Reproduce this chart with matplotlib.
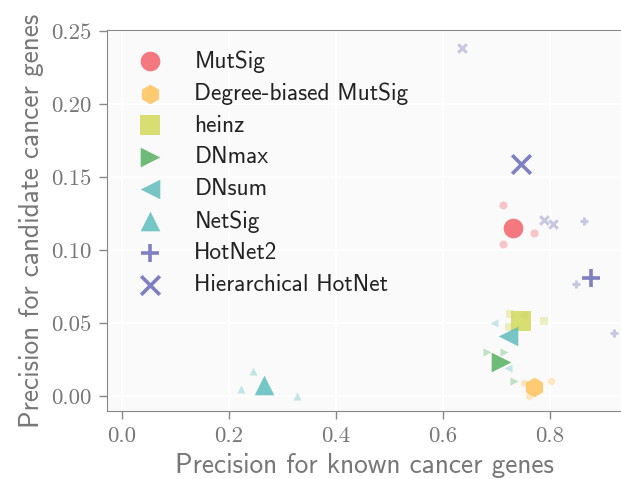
import matplotlib
matplotlib.use('Agg')
import matplotlib.pyplot as plt

plt.rcParams['mathtext.fontset'] = 'cm'
plt.rcParams['axes.formatter.use_mathtext'] = True

# methods, colours and markers
methods = ['MutSig', 'Degree-biased MutSig', 'heinz', 'DNmax', 'DNsum',
           'NetSig', 'HotNet2', 'Hierarchical HotNet']
colors = ['#f2616b', '#ffc35c', '#d2d95a', '#55b061', '#63bcbc',
          '#5ebdbd', '#6a6ab8', '#6a6ab8']
markers = ['o', 'h', 's', '>', '<', '^', '+', 'x']

# average precision (big markers)
known_mean = [0.731, 0.770, 0.746, 0.709, 0.722, 0.266, 0.877, 0.745]
cand_mean = [0.115, 0.0064, 0.0516, 0.0235, 0.0413, 0.0075, 0.0806, 0.159]

# individual runs (small markers)
known_runs = [
    [0.712, 0.712, 0.770],
    [0.751, 0.801, 0.760],
    [0.726, 0.789, 0.723],
    [0.682, 0.715, 0.732],
    [0.696, 0.750, 0.722],
    [0.245, 0.2235, 0.328],
    [0.864, 0.849, 0.919],
    [0.789, 0.806, 0.6365],
]
cand_runs = [
    [0.131, 0.104, 0.112],
    [0.0091, 0.0103, 0.000],
    [0.056, 0.0514, 0.0475],
    [0.0304, 0.0304, 0.0103],
    [0.050, 0.0555, 0.019],
    [0.017, 0.0048, 0.000],
    [0.120, 0.077, 0.043],
    [0.1205, 0.118, 0.2385],
]

fig = plt.figure(figsize=(6.21, 4.79), dpi=100)
ax = fig.add_axes([0.172, 0.142, 0.83, 0.795])
ax.set_facecolor('#fafafa')
ax.grid(True, color='white', linewidth=1.2)
ax.set_axisbelow(True)

for i, m in enumerate(methods):
    line_mk = markers[i] in ['+', 'x']
    ax.scatter(known_runs[i], cand_runs[i], marker=markers[i], color=colors[i],
               s=34 if not line_mk else 38, alpha=0.35,
               linewidths=2.2 if line_mk else 0, zorder=2)
    ax.scatter(known_mean[i], cand_mean[i], marker=markers[i], color=colors[i],
               s=200 if not line_mk else 180, alpha=0.85,
               linewidths=2.6 if line_mk else 0, label=m, zorder=3)

ax.set_xlim(-0.028, 0.935)
ax.set_ylim(-0.0103, 0.2507)
ax.set_xticks([0.0, 0.2, 0.4, 0.6, 0.8])
ax.set_yticks([0.0, 0.05, 0.10, 0.15, 0.20, 0.25])
ax.set_xticklabels(['0.0', '0.2', '0.4', '0.6', '0.8'])
ax.set_yticklabels(['0.00', '0.05', '0.10', '0.15', '0.20', '0.25'])
for lab in ax.get_xticklabels() + ax.get_yticklabels():
    lab.set_fontfamily('cmr10')
ax.tick_params(direction='out', length=6, width=1, colors='#888888',
               labelsize=16.5, labelcolor='#777777', pad=5)

for s in ['left', 'bottom', 'top']:
    ax.spines[s].set_color('#888888')
ax.spines['right'].set_visible(False)

ax.set_xlabel('Precision for known cancer genes', family='cmss10',
              fontsize=19.7, color='#777777', labelpad=5)
ax.set_ylabel('Precision for candidate cancer genes', family='cmss10',
              fontsize=19.7, color='#777777', labelpad=5)

leg = ax.legend(loc='upper left', frameon=False,
                prop={'family': 'cmss10', 'size': 16.8},
                handletextpad=0.9, labelspacing=0.42, borderaxespad=0.45,
                borderpad=0.4)
for t in leg.get_texts():
    t.set_color('#222222')

fig.savefig('out.png', dpi=100)
